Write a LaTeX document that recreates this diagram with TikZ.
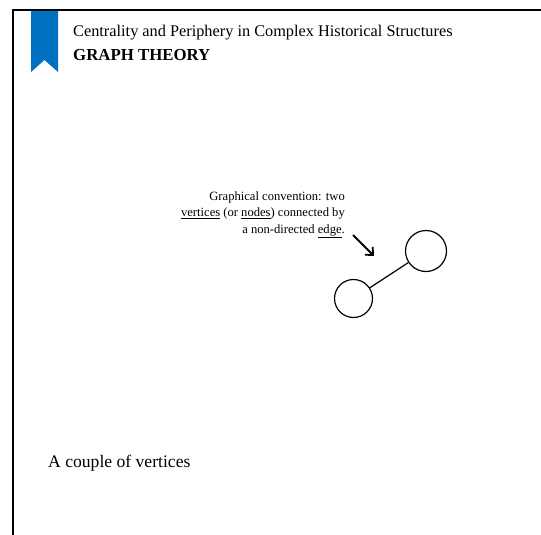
\documentclass[tikz,border=0pt]{standalone}
\usepackage{fontspec}
\usetikzlibrary{arrows.meta}
\setmainfont{Liberation Serif}
\definecolor{ribbonblue}{HTML}{0070C0}
\begin{document}
\begin{tikzpicture}[x=1pt,y=-1pt,
  vertex/.style={draw,circle,line width=1.2pt,minimum size=38pt,inner sep=0pt},
  frameline/.style={line width=2pt},
  txt/.style={inner sep=0pt,anchor=base west}]
\useasboundingbox (0,0) rectangle (541,535);
\draw[frameline] (13,535) -- (13,10.5) -- (541,10.5);
\fill[ribbonblue] (31,11) -- (58,11) -- (58,72) -- (44.5,60) -- (31,72) -- cycle;
\node[txt] (title) at (73,37) {\fontsize{16.3}{19}\selectfont Centrality and Periphery in Complex Historical Structures};
\node[txt] (sub) at (73,60) {\fontsize{16.8}{19}\selectfont\bfseries GRAPH THEORY};
\node[inner sep=0pt,anchor=base east,align=right,font=\fontsize{12.6}{16.5}\selectfont] (note) at (345,233)
  {Graphical convention: two\\\underline{vertices} (or \underline{nodes}) connected by\\a non-directed \underline{edge}.};
\node[vertex,minimum size=41pt] (v1) at (426,251) {};
\node[vertex] (v2) at (353.5,298.5) {};
\draw[line width=1.2pt] (v2) -- (v1);
\coordinate (a0) at (353,235);
\coordinate (a1) at (374,256);
\draw[line width=1.8pt,-{Straight Barb[length=6pt,width=11pt]}] (a0) -- (a1);
\node[txt] (caption) at (48,467) {\fontsize{17.6}{21}\selectfont A couple of vertices};
\end{tikzpicture}
\end{document}
